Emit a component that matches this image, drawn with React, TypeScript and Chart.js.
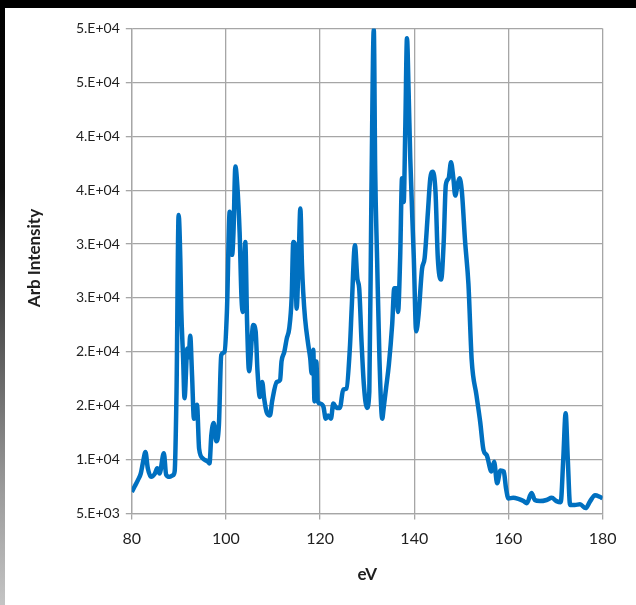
import React, { useEffect, useRef } from "react";
import { Chart, registerables } from "chart.js";

Chart.register(...registerables);

const eV: number[] = [
  80.0, 80.6, 81.3, 81.9, 82.4, 82.9, 83.4, 84.1, 84.9, 85.4, 85.9, 86.8, 87.3, 88.0, 88.75, 89.1,
  89.5, 89.95, 90.3, 90.5, 90.9, 91.2, 91.8, 92.1, 92.4, 92.8, 93.2, 93.85, 94.3, 95.1, 96.2, 96.5,
  96.9, 97.4, 97.95, 98.5, 99.0, 99.7, 100.2, 100.8, 101.3, 101.6, 102.0, 102.4, 102.9, 103.3, 103.6,
  104.1, 104.5, 104.9, 105.8, 106.3, 106.7, 107.2, 107.7, 108.1, 108.65, 109.35, 109.8, 110.8, 111.5,
  111.8, 112.4, 112.9, 113.45, 113.95, 114.3, 114.7, 115.0, 115.45, 115.8, 116.15, 116.4, 116.8, 117.5,
  117.9, 118.2, 118.55, 118.8, 119.2, 119.5, 120.0, 120.7, 121.2, 121.7, 122.3, 122.8, 123.5, 124.2,
  124.9, 125.6, 126.35, 126.7, 127.4, 127.9, 128.3, 128.8, 129.3, 129.95, 130.45, 130.9, 131.4, 131.7,
  132.1, 132.6, 133.2, 133.5, 134.0, 134.6, 135.3, 135.75, 136.2, 136.55, 137.0, 137.4, 137.75, 138.1,
  138.45, 138.8, 139.15, 139.9, 140.4, 140.9, 141.65, 142.2, 142.9, 143.4, 143.9, 144.5, 145.0, 145.7,
  146.25, 146.7, 147.3, 147.8, 148.3, 148.7, 149.2, 149.6, 150.1, 150.8, 151.5, 152.2, 153.2, 154.0,
  154.7, 155.4, 156.4, 156.95, 157.6, 158.3, 159.0, 159.5, 160.0, 161.0, 162.1, 163.2, 163.9, 164.9,
  165.6, 166.7, 168.1, 169.2, 170.2, 171.1, 171.65, 172.15, 172.6, 173.1, 174.1, 175.2, 176.4, 177.3,
  178.4, 179.4, 180.0,
];

const intensity: number[] = [
  7000, 7500, 8100, 8700, 9800, 10700, 9200, 8400, 8700, 9200, 8700, 10600, 8600, 8400, 8550, 8900,
  16300, 32700, 28700, 24000, 19400, 15700, 20300, 19500, 21500, 17800, 13800, 15100, 11000, 10100, 9800, 9650,
  12300, 13400, 11700, 13200, 19700, 20000, 23700, 33000, 29000, 31100, 37200, 35500, 31100, 25000, 23700,
  30200, 22500, 18200, 22500, 21900, 18200, 15800, 17200, 15700, 14400, 14100, 15400, 17200, 17400,
  19100, 20000, 21200, 22200, 25000, 30200, 29900, 24000, 28700, 33300, 28000, 25600, 23100, 20600,
  19400, 18000, 20200, 15400, 19100, 15400, 15200, 14900, 13800, 14100, 13800, 15200, 14800, 14800,
  16500, 16600, 20600, 24000, 29900, 26800, 25900, 20900, 16900, 14800, 16300, 34900, 49900, 36700,
  28700, 19400, 13800, 14800, 16600, 18800, 22500, 25900, 25900, 23700, 28700, 36100, 33900, 41000,
  49100, 44100, 37900, 28700, 21900, 23400, 27700, 28700, 33000, 36100, 36700, 34900, 28700, 26700,
  30200, 35500, 36100, 37600, 36100, 34500, 35500, 36100, 34900, 30200, 26300, 19200, 16000, 13500,
  10900, 10400, 8900, 9800, 7800, 9000, 8900, 7300, 6400, 6450, 6350, 6150, 5950, 6900,
  6250, 6150, 6250, 6450, 6150, 6050, 10100, 14300, 10100, 5800, 5800, 5850, 5500, 6100,
  6700, 6550, 6400,
];

const yTickValues: number[] = [5000, 10000, 15000, 20000, 25000, 30000, 35000, 40000, 45000, 50000];
const yTickLabels: string[] = ["5.E+03", "1.E+04", "2.E+04", "2.E+04", "3.E+04", "3.E+04", "4.E+04", "4.E+04", "5.E+04", "5.E+04"];
const xTickValues: number[] = [80, 100, 120, 140, 160, 180];
const xTickLabels: string[] = ["80", "100", "120", "140", "160", "180"];
const yTitle = "Arb Intensity";
const xTitle = "eV";

const FONT = "Lato, 'Open Sans', sans-serif";
const GRID = "#a6a6a6";
const TEXT = "#1f1f1f";

const yTitlePlugin = {
  id: "yTitlePlugin",
  afterDraw(chart: any) {
    const ctx = chart.ctx;
    ctx.save();
    ctx.translate(30, 250);
    ctx.rotate(-Math.PI / 2);
    ctx.font = `bold 17px ${FONT}`;
    ctx.fillStyle = TEXT;
    ctx.textAlign = "center";
    ctx.textBaseline = "middle";
    ctx.fillText(yTitle, 0, 0);
    ctx.restore();
  },
};

export default function App() {
  const ref = useRef<HTMLCanvasElement | null>(null);

  useEffect(() => {
    if (!ref.current) return;
    const chart = new Chart(ref.current, {
      type: "line",
      data: {
        datasets: [
          {
            data: eV.map((x, i) => ({ x, y: intensity[i] })),
            borderColor: "#0070C0",
            borderWidth: 4.5,
            pointRadius: 0,
            fill: false,
            cubicInterpolationMode: "monotone",
          },
        ],
      },
      plugins: [yTitlePlugin],
      options: {
        responsive: false,
        animation: false,
        devicePixelRatio: 1,
        layout: { padding: { left: 0, top: 20.5, right: 33.4, bottom: 0 } },
        plugins: { legend: { display: false }, tooltip: { enabled: false } },
        scales: {
          x: {
            type: "linear",
            min: 80,
            max: 180,
            afterBuildTicks: (s: any) => {
              s.ticks = xTickValues.map((v) => ({ value: v }));
            },
            afterFit: (s: any) => {
              s.height = 91.5;
            },
            ticks: {
              callback: (_v: any, i: number) => xTickLabels[i],
              color: TEXT,
              font: { family: FONT, size: 16 },
              padding: 10,
              maxRotation: 0,
            },
            grid: { color: GRID, lineWidth: 1.3, tickLength: 6, drawTicks: true },
            border: { color: GRID, width: 1.3 },
            title: {
              display: true,
              text: xTitle,
              color: TEXT,
              font: { family: FONT, size: 17, weight: "bold" },
              padding: { top: 0, bottom: 20 },
            },
          },
          y: {
            type: "linear",
            min: 5000,
            max: 50000,
            afterBuildTicks: (s: any) => {
              s.ticks = yTickValues.map((v) => ({ value: v }));
            },
            afterFit: (s: any) => {
              s.width = 126.8;
            },
            ticks: {
              callback: (_v: any, i: number) => yTickLabels[i],
              color: TEXT,
              font: { family: FONT, size: 14 },
              padding: 6,
            },
            grid: { color: GRID, lineWidth: 1.3, tickLength: 6, drawTicks: true },
            border: { color: GRID, width: 1.3 },
          },
        },
      },
    });
    return () => chart.destroy();
  }, []);

  return (
    <div
      style={{
        position: "fixed",
        left: 0,
        top: 0,
        width: 636,
        height: 605,
        background: "#000",
        overflow: "hidden",
      }}
    >
      <div
        style={{
          position: "absolute",
          left: 0,
          top: 8,
          width: 5,
          height: 597,
          background: "linear-gradient(to bottom, #000 0%, #111 30%, #555 55%, #999 80%, #c4c4c4 100%)",
        }}
      />
      <div style={{ position: "absolute", left: 5, top: 8, width: 631, height: 597, background: "#fff" }}>
        <canvas ref={ref} width={631} height={597} style={{ display: "block" }} />
      </div>
    </div>
  );
}
